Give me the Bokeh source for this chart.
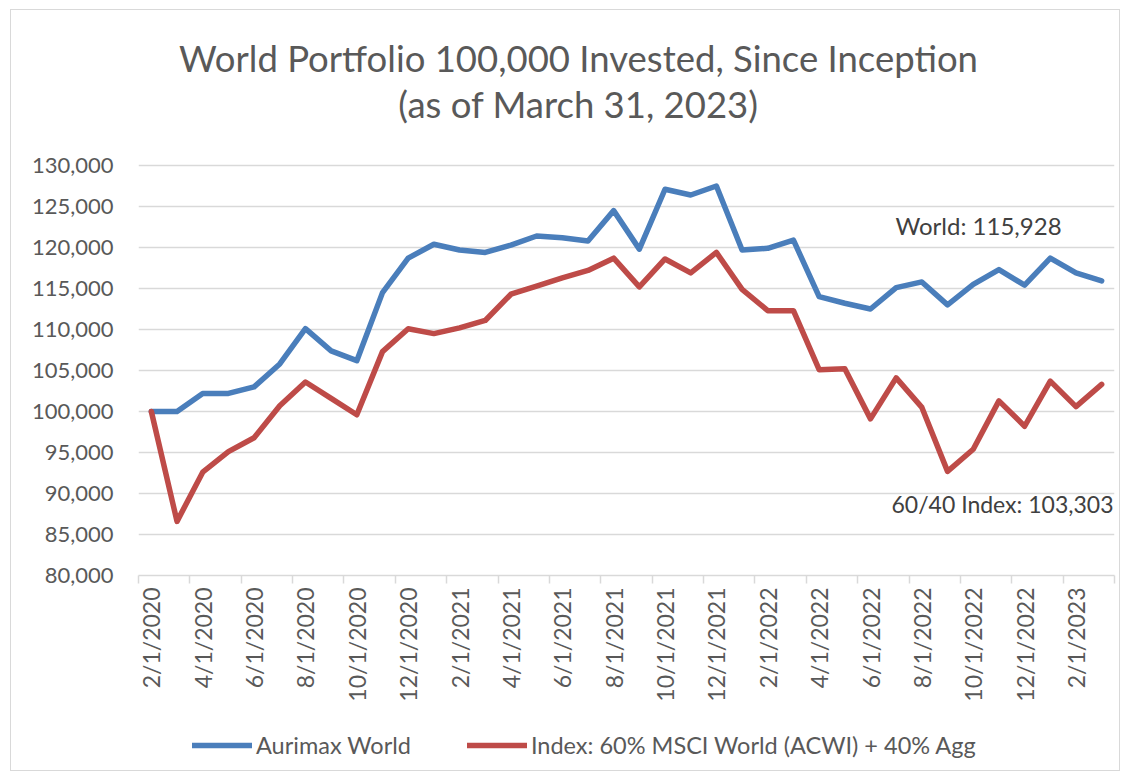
import math
from bokeh.plotting import figure
from bokeh.layouts import column
from bokeh.models import (Range1d, FixedTicker, Label, Legend, LegendItem)
from bokeh.embed import file_html
from bokeh.resources import INLINE

# ---- data ----
months = ["2/1/2020", "3/1/2020", "4/1/2020", "5/1/2020", "6/1/2020", "7/1/2020",
          "8/1/2020", "9/1/2020", "10/1/2020", "11/1/2020", "12/1/2020",
          "1/1/2021", "2/1/2021", "3/1/2021", "4/1/2021", "5/1/2021", "6/1/2021",
          "7/1/2021", "8/1/2021", "9/1/2021", "10/1/2021", "11/1/2021", "12/1/2021",
          "1/1/2022", "2/1/2022", "3/1/2022", "4/1/2022", "5/1/2022", "6/1/2022",
          "7/1/2022", "8/1/2022", "9/1/2022", "10/1/2022", "11/1/2022", "12/1/2022",
          "1/1/2023", "2/1/2023", "3/1/2023"]
world = [100000, 100000, 102200, 102200, 103000, 105800, 110100, 107400, 106200,
         114500, 118700, 120400, 119700, 119400, 120300, 121400, 121200, 120800,
         124500, 119800, 127100, 126400, 127500, 119700, 119900, 120900, 114000,
         113200, 112500, 115100, 115800, 113000, 115500, 117300, 115400, 118700,
         116900, 115928]
index_6040 = [100000, 86600, 92600, 95100, 96800, 100700, 103600, 101600, 99600,
              107300, 110100, 109500, 110200, 111100, 114300, 115300, 116300, 117200,
              118700, 115200, 118600, 116900, 119400, 114900, 112300, 112300, 105100,
              105200, 99100, 104100, 100500, 92700, 95400, 101300, 98200, 103700,
              100600, 103303]
y_ticks = [80000, 85000, 90000, 95000, 100000, 105000, 110000, 115000, 120000,
           125000, 130000]
y_tick_labels = ["80,000", "85,000", "90,000", "95,000", "100,000", "105,000",
                 "110,000", "115,000", "120,000", "125,000", "130,000"]
series_names = ["Aurimax World", "Index: 60% MSCI World (ACWI) + 40% Agg"]
title_lines = ["World Portfolio 100,000 Invested, Since Inception",
               "(as of March 31, 2023)"]
end_labels = ["World: 115,928", "60/40 Index: 103,303"]

FONT = "Lato"
GREY = "#595959"
BLUE = "#4A7EBB"
RED = "#BE4B48"

# layout (pixels)
W, H = 1108, 705
FRAME_TOP, FRAME_BOTTOM = 10, 565          # canvas pixels
PLOT_TOP_PX = 155                          # canvas pixel where the 130,000 line sits
px_per_unit = (FRAME_BOTTOM - PLOT_TOP_PX) / (y_ticks[-1] - y_ticks[0])
y_top = y_ticks[-1] + (PLOT_TOP_PX - FRAME_TOP) / px_per_unit

xs = list(range(len(months)))

p = figure(width=W, height=H, output_backend="svg", toolbar_location=None,
           x_range=Range1d(-0.5, len(months) - 0.5), y_range=Range1d(y_ticks[0], y_top),
           min_border_left=127, min_border_right=5, min_border_top=FRAME_TOP,
           min_border_bottom=H - FRAME_BOTTOM)
p.outline_line_color = None
p.background_fill_color = "white"
p.border_fill_color = "white"

# grid
p.xgrid.visible = False
p.ygrid.grid_line_color = "#d9d9d9"
p.ygrid.grid_line_width = 1.5
p.ygrid.ticker = FixedTicker(ticks=y_ticks)

# y axis
p.yaxis.ticker = FixedTicker(ticks=y_ticks)
p.yaxis.major_label_overrides = {t: l for t, l in zip(y_ticks, y_tick_labels)}
p.yaxis.axis_line_color = None
p.yaxis.major_tick_line_color = None
p.yaxis.minor_tick_line_color = None
p.yaxis.major_label_standoff = 19
p.yaxis.major_label_text_font = FONT
p.yaxis.major_label_text_font_size = "22px"
p.yaxis.major_label_text_color = GREY

# x axis: labels at every other month, tick marks at category boundaries
label_pos = xs[::2]
boundaries = [i - 0.5 for i in range(0, len(months) + 1, 2)]
p.xaxis.ticker = FixedTicker(ticks=label_pos, minor_ticks=boundaries)
p.xaxis.major_label_overrides = {i: months[i] for i in label_pos}
p.xaxis.major_tick_line_color = None
p.xaxis.major_tick_out = 0
p.xaxis.major_tick_in = 0
p.xaxis.minor_tick_line_color = "#d9d9d9"
p.xaxis.minor_tick_line_width = 1.5
p.xaxis.minor_tick_out = 8
p.xaxis.minor_tick_in = 0
p.xaxis.axis_line_color = "#d9d9d9"
p.xaxis.axis_line_width = 1.5
p.xaxis.major_label_orientation = math.pi / 2
p.xaxis.major_label_standoff = 4
p.xaxis.major_label_text_font = FONT
p.xaxis.major_label_text_font_size = "23px"
p.xaxis.major_label_text_color = GREY

r1 = p.line(xs, world, line_color=BLUE, line_width=5.5, line_join="round", line_cap="round")
r2 = p.line(xs, index_6040, line_color=RED, line_width=5.5, line_join="round", line_cap="round")

# title (inside the enlarged frame, above the 130,000 line)
for txt, yy in zip(title_lines, [518, 472]):
    p.add_layout(Label(x=440, y=yy, x_units="screen", y_units="screen", text=txt,
                       text_align="center", text_baseline="alphabetic",
                       text_font=FONT, text_font_size="36.5px", text_color=GREY))

# end labels
for txt, xx, yy, fs in zip(end_labels, [757, 753], [350, 72], ["24px", "23px"]):
    p.add_layout(Label(x=xx, y=yy, x_units="screen", y_units="screen", text=txt,
                       text_align="left", text_baseline="alphabetic",
                       text_font=FONT, text_font_size=fs, text_color="#404040"))

# legend strip below the chart (its frame is aligned with the chart's frame)
p2 = figure(width=W, height=55, output_backend="svg", toolbar_location=None,
            x_range=Range1d(0, 1), y_range=Range1d(0, 1),
            x_axis_location=None, y_axis_location=None,
            min_border=0)
p2.outline_line_color = None
p2.grid.visible = False
p2.border_fill_color = "white"
# same series, but they fall outside this strip's ranges: only legend samples show
l1 = p2.line(xs, world, line_color=BLUE, line_width=5.5, line_cap="round")
l2 = p2.line(xs, index_6040, line_color=RED, line_width=5.5, line_cap="round")
legend = Legend(items=[LegendItem(label=series_names[0], renderers=[l1]),
                       LegendItem(label=series_names[1], renderers=[l2])],
                location=(54, 11), orientation="horizontal",
                glyph_width=60, glyph_height=20, label_standoff=4, spacing=56,
                padding=0, margin=0, border_line_color=None,
                background_fill_alpha=0,
                label_text_font=FONT, label_text_font_size="23.5px",
                label_text_color=GREY)
p2.add_layout(legend)

layout = column(p, p2, spacing=0)
layout.styles = {"border": "1px solid #d9d9d9", "margin-left": "10px", "margin-top": "9px"}

open("out.html", "w").write(file_html(layout, INLINE))
